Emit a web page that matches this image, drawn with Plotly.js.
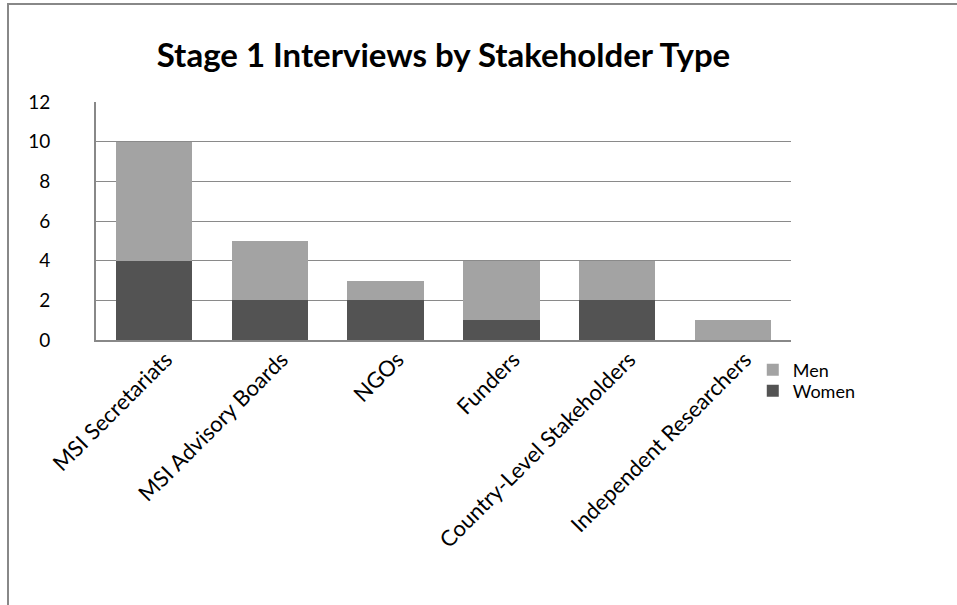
<!DOCTYPE html>
<html>
<head>
<meta charset="utf-8">
<script src="https://cdn.plot.ly/plotly-3.0.1.min.js"></script>
<style>
html,body{margin:0;padding:0;background:#fff;}
#frame{position:absolute;left:7px;top:3px;width:960px;height:620px;border-top:2px solid #888;border-left:2px solid #888;}
#chart{position:absolute;left:0;top:0;width:957px;height:605px;}
</style>
</head>
<body>
<div id="frame"></div>
<div id="chart"></div>
<script>
const categories = ["MSI Secretariats","MSI Advisory Boards","NGOs","Funders","Country-Level Stakeholders","Independent Researchers"];
const women = [4, 2, 2, 1, 2, 0];
const men = [6, 3, 1, 3, 2, 1];
const yTicks = [0, 2, 4, 6, 8, 10, 12];

const font = "Lato, 'Open Sans', sans-serif";

const data = [
  {type:'bar', name:'Women', x:categories, y:women, legend:'legend2', marker:{color:'#535353', line:{width:0}}},
  {type:'bar', name:'Men', x:categories, y:men, legend:'legend', marker:{color:'#a3a3a3', line:{width:0}}}
];

const legendBase = {x:0.945, xanchor:'left', yanchor:'middle', font:{size:18, family:font}, bgcolor:'rgba(0,0,0,0)'};

const layout = {
  width:957, height:605,
  paper_bgcolor:'rgba(0,0,0,0)', plot_bgcolor:'rgba(0,0,0,0)',
  margin:{l:96, r:166, t:102, b:265},
  barmode:'stack', bargap:0.34,
  font:{family:font, size:18, color:'#000'},
  title:{text:'<b>Stage 1 Interviews by Stakeholder Type</b>', font:{family:font, size:33, color:'#000'}, x:0.5, xref:'paper', y:1-55/605, yref:'container', yanchor:'middle'},
  xaxis:{type:'category', tickangle:-45, showline:true, linecolor:'#888', linewidth:2, showgrid:false, ticks:'', tickfont:{size:22, family:font}, ticklabelshift:12, ticklabelstandoff:-4},
  yaxis:{range:[0,12], tickvals:yTicks, showline:true, linecolor:'#888', linewidth:2, showgrid:true, gridcolor:'#8a8a8a', gridwidth:1, ticks:'', zeroline:false, tickfont:{size:19, family:font}, ticklabelstandoff:40},
  legend:Object.assign({}, legendBase, {y:(340-370)/238}),
  legend2:Object.assign({}, legendBase, {y:(340-391)/238}),
  showlegend:true
};

Plotly.newPlot('chart', data, layout, {displayModeBar:false, staticPlot:true});
</script>
</body>
</html>
